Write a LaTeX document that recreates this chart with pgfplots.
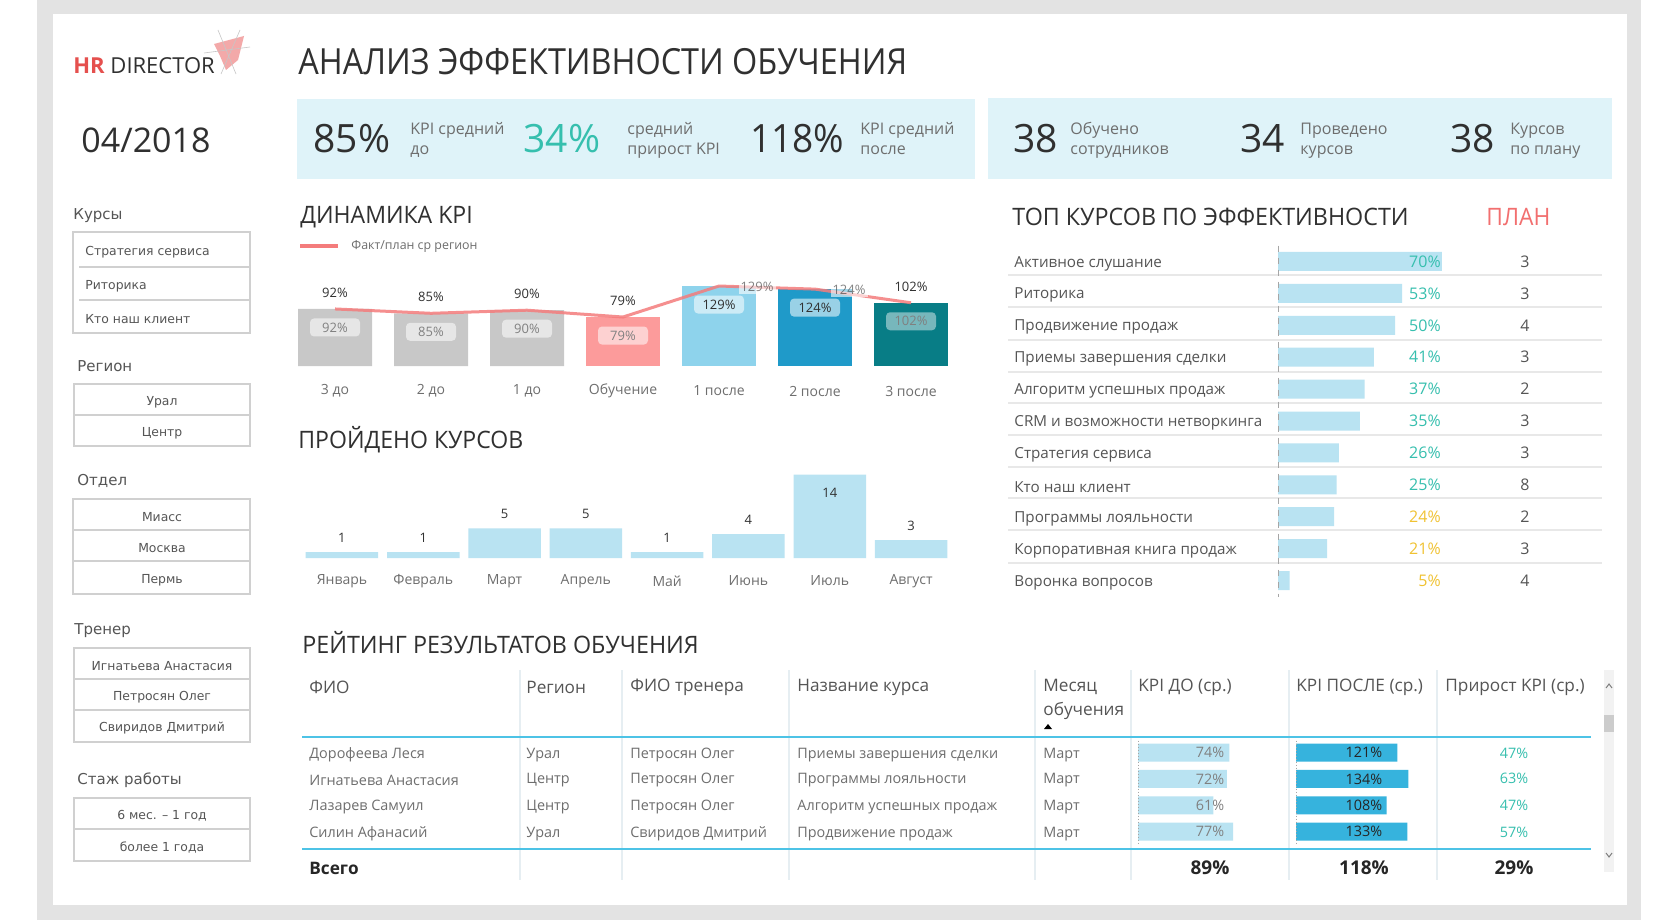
\documentclass[border=0pt]{standalone}
\usepackage{pgfplots}
\pgfplotsset{compat=1.18}
\usepackage{fontspec}
\setmainfont{Open Sans}
\newfontfamily\slf{DejaVu Sans}
\newcommand\fs[1]{\fontsize{#1}{#1}\selectfont}
\newcommand\sx[2]{\scalebox{#1}[1]{#2}}
\definecolor{frame}{HTML}{E3E3E3}
\definecolor{card}{HTML}{DFF3F9}
\definecolor{txt}{HTML}{303030}
\definecolor{sub}{HTML}{6E6E6E}
\definecolor{ttxt}{HTML}{555555}
\definecolor{teal}{HTML}{36BFAE}
\definecolor{lb}{HTML}{B9E3F2}
\definecolor{gbar}{HTML}{C8C8C8}
\definecolor{salm}{HTML}{FC9B9B}
\definecolor{bA}{HTML}{8ED3EC}
\definecolor{bB}{HTML}{1F9AC9}
\definecolor{bC}{HTML}{087D86}
\definecolor{linec}{HTML}{F47C7C}
\definecolor{gold}{HTML}{F0C232}
\definecolor{redt}{HTML}{F26F6F}
\definecolor{hrred}{HTML}{E5504E}
\definecolor{star}{HTML}{F2A0A0}
\definecolor{tblue}{HTML}{4DC3E6}
\definecolor{pbar}{HTML}{36B3DD}
\definecolor{sep}{HTML}{E8E8E8}
\definecolor{slb}{HTML}{D0D0D0}
\definecolor{vln}{HTML}{E6EEF2}
\begin{document}
\begin{tikzpicture}
\begin{scope}[x=0.5pt,y=-0.5pt]
\path[use as bounding box] (0,0) rectangle (1680,920);
\fill[white] (0,0) rectangle (1680,920);
\fill[frame] (37,0) rectangle (1641,920);
\fill[white] (53,14) rectangle (1627,905);
% logo
\fill[star, opacity=0.9] (214,44) -- (244,36) -- (238,60) -- (226,70) -- (220,56) -- cycle;
\draw[gray!45, line width=0.3pt] (204,53) -- (250,47) (218,30) -- (236,74) (240,30) -- (221,74);
\node[anchor=base west, inner sep=0, text=txt] at (73,74) {\fs{11}\textcolor{hrred}{\textbf{HR}} DIRECTOR};
% date
\node[anchor=base west, inner sep=0, text=txt] at (81,152) {\fs{17}04/2018};
% title
\node[anchor=base west, inner sep=0, text=txt] at (298,75) {\fs{18}\sx{0.9}{АНАЛИЗ ЭФФЕКТИВНОСТИ ОБУЧЕНИЯ}};
% cards
\fill[card] (297,99) rectangle (975,179);
\fill[card] (988,98) rectangle (1612,179);
\node[anchor=base west, inner sep=0, text=txt] at (313,152) {\fs{19.5}85\%};
\node[anchor=base west, inner sep=0, text=teal] at (523,152) {\fs{19.5}34\%};
\node[anchor=base west, inner sep=0, text=txt] at (750,152) {\fs{19.5}\sx{0.95}{118\%}};
\node[anchor=base west, inner sep=0, text=txt] at (1013,152) {\fs{19.5}38};
\node[anchor=base west, inner sep=0, text=txt] at (1240,152) {\fs{19.5}34};
\node[anchor=base west, inner sep=0, text=txt] at (1450,152) {\fs{19.5}38};
\begin{scope}[every node/.style={anchor=base west, inner sep=0, text=sub, font=\fs{8}}]
\node at (410,134) {KPI средний}; \node at (410,155) {до};
\node at (627,134) {средний}; \node at (627,155) {прирост KPI};
\node at (860,134) {KPI средний}; \node at (860,155) {после};
\node at (1070,134) {Обучено}; \node at (1070,155) {сотрудников};
\node at (1300,134) {Проведено}; \node at (1300,155) {курсов};
\node at (1510,134) {Курсов}; \node at (1510,155) {по плану};
\end{scope}
% slicers
\begin{scope}[every node/.style={anchor=west, inner sep=0, text=ttxt, font=\slf\fs{7.5}, yshift=-1.5pt}]
\node at (73,213) {Курсы};
\node at (77,363) {Регион};
\node at (77,478) {Отдел};
\node at (74,628) {Тренер};
\node at (77,777) {Стаж работы};
\end{scope}
\begin{scope}[slb, line width=0.6pt]
\draw (73,232) rectangle (250,333); \draw (79,267) -- (250,267); \draw (79,300) -- (250,300);
\draw (74,384) rectangle (250,446); \draw (74,415) -- (250,415);
\draw (73,499) rectangle (250,594); \draw (73,530) -- (250,530); \draw (73,561) -- (250,561);
\draw (74,648) rectangle (250,742); \draw (74,679) -- (250,679); \draw (74,710) -- (250,710);
\draw (74,798) rectangle (250,861); \draw (74,829) -- (250,829);
\end{scope}
\begin{scope}[every node/.style={inner sep=0, text=ttxt, font=\slf\fs{6.2}, yshift=-1.2pt}]
\node[anchor=west] at (85,249.5) {Стратегия сервиса};
\node[anchor=west] at (85,283.5) {Риторика};
\node[anchor=west] at (85,316.5) {Кто наш клиент};
\node at (162,399.5) {Урал};
\node at (162,430.5) {Центр};
\node at (162,514.5) {Миасс};
\node at (162,545.5) {Москва};
\node at (162,577.5) {Пермь};
\node at (162,663.5) {Игнатьева Анастасия};
\node at (162,694.5) {Петросян Олег};
\node at (162,726) {Свиридов Дмитрий};
\node at (162,813.5) {6 мес. – 1 год};
\node at (162,845) {более 1 года};
\end{scope}
% section titles
\begin{scope}[every node/.style={anchor=base west, inner sep=0, text=txt, font=\fs{12}}]
\node at (300,223) {\sx{0.96}{ДИНАМИКА KPI}};
\node at (298,448) {\sx{0.96}{ПРОЙДЕНО КУРСОВ}};
\node at (1012,225) {\sx{0.97}{ТОП КУРСОВ ПО ЭФФЕКТИВНОСТИ}};
\node[text=redt] at (1486,225) {\sx{0.95}{ПЛАН}};
\node at (302,653) {\sx{0.97}{РЕЙТИНГ РЕЗУЛЬТАТОВ ОБУЧЕНИЯ}};
\end{scope}
% legend of KPI chart
\draw[linec, line width=1.6pt] (300,246) -- (338,246);
\node[anchor=west, inner sep=0, text=sub, font=\fs{6.2}] at (351,246) {Факт/план ср регион};
% top separators
\foreach \y in {275,307,340,372,403,435,467,498,530,563} \draw[sep, line width=0.6pt] (1008,\y) -- (1602,\y);
% table
\foreach \x in {520,622,789,1035,1131,1289,1437} \draw[vln, line width=0.6pt] (\x,670) -- (\x,880);
\draw[tblue, line width=1.2pt] (302,737) -- (1591,737);
\draw[tblue, line width=1.2pt] (302,849) -- (1591,849);
\begin{scope}[every node/.style={anchor=west, inner sep=0, text=ttxt, font=\fs{8.6}}]
\node at (309,687) {ФИО};
\node at (526,687) {Регион};
\node at (630,687) {ФИО тренера};
\node at (797,687) {Название курса};
\node at (1043,687) {Месяц};
\node at (1043,711) {обучения};
\node at (1138,687) {KPI ДО (ср.)};
\node at (1296,687) {KPI ПОСЛЕ (ср.)};
\node at (1445,687) {Прирост KPI (ср.)};
\end{scope}
\fill[black] (1044,729) -- (1052,729) -- (1048,724) -- cycle;
\begin{scope}[every node/.style={anchor=west, inner sep=0, text=sub, font=\fs{7.2}, yshift=-1.1pt}]
\node at (309,753) {Дорофеева Леся}; \node at (526,753) {Урал}; \node at (630,753) {Петросян Олег}; \node at (797,753) {Приемы завершения сделки}; \node at (1043,753) {Март};
\node at (309,778) {Игнатьева Анастасия}; \node at (526,778) {Центр}; \node at (630,778) {Петросян Олег}; \node at (797,778) {Программы лояльности}; \node at (1043,778) {Март};
\node at (309,805) {Лазарев Самуил}; \node at (526,805) {Центр}; \node at (630,805) {Петросян Олег}; \node at (797,805) {Алгоритм успешных продаж}; \node at (1043,805) {Март};
\node at (309,832) {Силин Афанасий}; \node at (526,832) {Урал}; \node at (630,832) {Свиридов Дмитрий}; \node at (797,832) {Продвижение продаж}; \node at (1043,832) {Март};
\end{scope}
\begin{scope}[every node/.style={inner sep=0, text=teal, font=\fs{7.2}}]
\node at (1514,753) {47\%}; \node at (1514,778) {63\%}; \node at (1514,805) {47\%}; \node at (1514,832) {57\%};
\end{scope}
\node[anchor=west, inner sep=0, text=black!85, font=\fs{8.6}\bfseries] at (309,868) {Всего};
\begin{scope}[every node/.style={inner sep=0, text=black!85, font=\fs{9.5}\bfseries}]
\node at (1210,868) {89\%}; \node at (1364,868) {118\%}; \node at (1514,868) {29\%};
\end{scope}
% scrollbar
\fill[black!5] (1604,670) rectangle (1614,872);
\fill[black!20] (1604,715) rectangle (1614,732);
\draw[gray, line width=0.5pt] (1606,688) -- (1609,684) -- (1612,688);
\draw[gray, line width=0.5pt] (1606,853) -- (1609,857) -- (1612,853);
\end{scope}

% ===== KPI dynamics =====
\begin{axis}[at={(143.5pt,-183pt)}, anchor=south west, scale only axis,
  width=336pt, height=46.5pt, xmin=-0.5, xmax=6.5, ymin=0, ymax=150, clip=false,
  axis line style={draw=none}, major tick length=0pt, ytick=\empty,
  xtick={0,...,6}, xticklabels={3 до,2 до,1 до,Обучение,1 после,2 после,3 после},
  xticklabel style={anchor=center, yshift=-12.5pt, font=\fs{7}, text=sub}]
\addplot[ybar, bar shift=0pt, bar width=37pt, fill=gbar, draw=none] coordinates {(0,92) (1,85) (2,90)};
\addplot[ybar, bar shift=0pt, bar width=37pt, fill=salm, draw=none] coordinates {(3,79)};
\addplot[ybar, bar shift=0pt, bar width=37pt, fill=bA, draw=none] coordinates {(4,129)};
\addplot[ybar, bar shift=0pt, bar width=37pt, fill=bB, draw=none] coordinates {(5,124)};
\addplot[ybar, bar shift=0pt, bar width=37pt, fill=bC, draw=none] coordinates {(6,102)};
\addplot[linec, line width=1.5pt, opacity=0.85, mark=none] coordinates {(0,92) (1,85) (2,90) (3,79) (4,129) (5,124) (6,102)};
\begin{scope}[every node/.style={font=\fs{6.5}, text=txt, inner sep=1pt}]
\node[yshift=8pt] at (axis cs:0,92) {92\%};
\node[yshift=8pt] at (axis cs:1,85) {85\%};
\node[yshift=8pt] at (axis cs:2,90) {90\%};
\node[yshift=8pt] at (axis cs:3,79) {79\%};
\node[yshift=8pt] at (axis cs:6,102) {102\%};
\node[xshift=19pt, yshift=-0.5pt, fill=white, fill opacity=0.6, text opacity=0.6] at (axis cs:4,129) {129\%};
\node[xshift=17pt, yshift=-0.5pt, fill=white, fill opacity=0.6, text opacity=0.6] at (axis cs:5,124) {124\%};
\end{scope}
\begin{scope}[every node/.style={font=\fs{6.5}, inner sep=1pt, fill=white, fill opacity=0.55, text opacity=1, rounded corners=2pt, minimum width=25pt, minimum height=9pt, yshift=-9.25pt}]
\node[text=gray] at (axis cs:0,92) {92\%};
\node[text=gray] at (axis cs:1,85) {85\%};
\node[text=gray] at (axis cs:2,90) {90\%};
\node[text=gray] at (axis cs:3,79) {79\%};
\node[text=txt] at (axis cs:4,129) {129\%};
\node[text=txt] at (axis cs:5,124) {124\%};
\node[text=gray, fill opacity=0.45] at (axis cs:6,102) {102\%};
\end{scope}
\end{axis}

% ===== courses passed =====
\begin{axis}[at={(150.65pt,-279pt)}, anchor=south west, scale only axis,
  width=325.2pt, height=47.6pt, xmin=-0.5, xmax=7.5, ymin=0, ymax=16, clip=false,
  axis line style={draw=none}, major tick length=0pt, ytick=\empty,
  xtick={0,...,7}, xticklabels={Январь,Февраль,Март,Апрель,Май,Июнь,Июль,Август},
  xticklabel style={anchor=center, yshift=-11.5pt, font=\fs{7}, text=sub}]
\addplot[ybar, bar shift=0pt, bar width=36.25pt, fill=lb, draw=none] coordinates {(0,1) (1,1) (2,5) (3,5) (4,1) (5,4) (6,14) (7,3)};
\begin{scope}[every node/.style={font=\fs{6.5}, text=txt, inner sep=0pt, yshift=7pt}]
\node at (axis cs:0,1) {1}; \node at (axis cs:1,1) {1}; \node at (axis cs:2,5) {5}; \node at (axis cs:3,5) {5};
\node at (axis cs:4,1) {1}; \node at (axis cs:5,4) {4}; \node at (axis cs:7,3) {3};
\end{scope}
\node[font=\fs{6.5}, text=txt, inner sep=0pt, yshift=-9pt] at (axis cs:6,14) {14};
\end{axis}

% ===== top courses =====
\begin{axis}[at={(639pt,-122.75pt)}, anchor=north west, scale only axis,
  width=117pt, height=175.5pt, xmin=0, xmax=100, ymin=-0.5, ymax=10.5, y dir=reverse, clip=false,
  axis line style={draw=none}, major tick length=0pt, xtick=\empty,
  ytick={0,...,10},
  yticklabels={Активное слушание,Риторика,Продвижение продаж,Приемы завершения сделки,Алгоритм успешных продаж,CRM и возможности нетворкинга,Стратегия сервиса,Кто наш клиент,Программы лояльности,Корпоративная книга продаж,Воронка вопросов},
  yticklabel style={anchor=west, inner sep=0pt, xshift=-132pt, yshift=-1pt, font=\fs{7.6}, text=ttxt}]
\addplot[xbar, bar shift=0pt, bar width=9.5pt, fill=lb, draw=none] coordinates {(70,0) (53,1) (50,2) (41,3) (37,4) (35,5) (26,6) (25,7) (24,8) (21,9) (5,10)};
\draw[gray!70, dashed, line width=0.4pt] (axis cs:0,-0.5) -- (axis cs:0,10.5);
\begin{scope}[every node/.style={anchor=east, inner sep=0pt, font=\fs{8}}]
\node[text=teal] at (axis cs:69.7,0) {70\%};
\node[text=teal] at (axis cs:69.7,1) {53\%};
\node[text=teal] at (axis cs:69.7,2) {50\%};
\node[text=teal] at (axis cs:69.7,3) {41\%};
\node[text=teal] at (axis cs:69.7,4) {37\%};
\node[text=teal] at (axis cs:69.7,5) {35\%};
\node[text=teal] at (axis cs:69.7,6) {26\%};
\node[text=teal] at (axis cs:69.7,7) {25\%};
\node[text=gold] at (axis cs:69.7,8) {24\%};
\node[text=gold] at (axis cs:69.7,9) {21\%};
\node[text=gold] at (axis cs:69.7,10) {5\%};
\end{scope}
\begin{scope}[every node/.style={inner sep=0pt, font=\fs{8}, text=ttxt}]
\node at (axis cs:105.5,0) {3}; \node at (axis cs:105.5,1) {3}; \node at (axis cs:105.5,2) {4};
\node at (axis cs:105.5,3) {3}; \node at (axis cs:105.5,4) {2}; \node at (axis cs:105.5,5) {3};
\node at (axis cs:105.5,6) {3}; \node at (axis cs:105.5,7) {8}; \node at (axis cs:105.5,8) {2};
\node at (axis cs:105.5,9) {3}; \node at (axis cs:105.5,10) {4};
\end{scope}
\end{axis}

% ===== table KPI before =====
\begin{axis}[at={(569pt,-369.65pt)}, anchor=north west, scale only axis,
  width=61.75pt, height=52.8pt, xmin=0, xmax=100, ymin=-0.5, ymax=3.5, y dir=reverse, clip=false,
  axis line style={draw=none}, major tick length=0pt, xtick=\empty, ytick=\empty]
\addplot[xbar, bar shift=0pt, bar width=9pt, fill=lb, draw=none] coordinates {(74,0) (72,1) (61,2) (77,3)};
\draw[gray!70, densely dotted, line width=0.5pt] (axis cs:0,-0.45) -- (axis cs:0,3.45);
\begin{scope}[every node/.style={inner sep=0pt, font=\fs{7.2}, text=gray}]
\node at (axis cs:58.3,0) {74\%}; \node at (axis cs:58.3,1) {72\%}; \node at (axis cs:58.3,2) {61\%}; \node at (axis cs:58.3,3) {77\%};
\end{scope}
\end{axis}

% ===== table KPI after =====
\begin{axis}[at={(648pt,-369.65pt)}, anchor=north west, scale only axis,
  width=62.85pt, height=52.8pt, xmin=0, xmax=150, ymin=-0.5, ymax=3.5, y dir=reverse, clip=false,
  axis line style={draw=none}, major tick length=0pt, xtick=\empty, ytick=\empty]
\addplot[xbar, bar shift=0pt, bar width=9pt, fill=pbar, draw=none] coordinates {(121,0) (134,1) (108,2) (133,3)};
\draw[gray!70, densely dotted, line width=0.5pt] (axis cs:0,-0.45) -- (axis cs:0,3.45);
\begin{scope}[every node/.style={inner sep=0pt, font=\fs{7.2}, text=black!85}]
\node at (axis cs:81.1,0) {121\%}; \node at (axis cs:81.1,1) {134\%}; \node at (axis cs:81.1,2) {108\%}; \node at (axis cs:81.1,3) {133\%};
\end{scope}
\end{axis}
\end{tikzpicture}
\end{document}
